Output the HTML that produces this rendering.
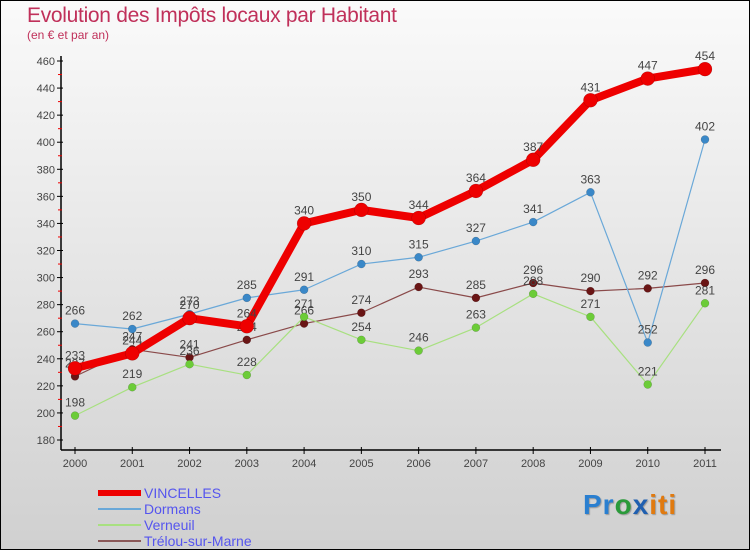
<!DOCTYPE html>
<html><head><meta charset="utf-8"><style>
html,body{margin:0;padding:0}
body{width:750px;height:550px;overflow:hidden;font-family:"Liberation Sans",sans-serif}
#wrap{position:relative;width:748px;height:548px;border:1px solid #000;background:linear-gradient(#fafafa,#d0d0d0)}
.t{position:absolute;color:#c0305a}
</style></head><body>
<div id="wrap">
<div class="t" style="left:26px;top:3px;font-size:21px;letter-spacing:-0.3px">Evolution des Impôts locaux par Habitant</div>
<div class="t" style="left:26px;top:27px;font-size:12px">(en € et par an)</div>
<svg id="chart" width="748" height="548" style="position:absolute;left:0;top:0"></svg>
<div style="position:absolute;left:582px;top:488px;font-size:28px;font-weight:bold;letter-spacing:1px;text-shadow:1px 1px 1px #999"><span style="color:#2a7fd0">Pr</span><span style="color:#2a9a3a">o</span><span style="color:#1f5fb0">x</span><span style="color:#e07a10">iti</span></div>
</div>
<script>
const years=["2000","2001","2002","2003","2004","2005","2006","2007","2008","2009","2010","2011"];
const vincelles=[233,244,270,264,340,350,344,364,387,431,447,454];
const dormans=[266,262,273,285,291,310,315,327,341,363,252,402];
const verneuil=[198,219,236,228,271,254,246,263,288,271,221,281];
const trelou=[227,247,241,254,266,274,293,285,296,290,292,296];
const yTicks=[180,200,220,240,260,280,300,320,340,360,380,400,420,440,460];
const svg=document.getElementById('chart');
const NS='http://www.w3.org/2000/svg';
function X(i){return 74+i*(704-74)/11;}
function Y(v){return 439-(v-180)*(439-60)/280;}
function mk(tag,attrs,parent){const e=document.createElementNS(NS,tag);for(const k in attrs)e.setAttribute(k,attrs[k]);(parent||svg).appendChild(e);return e;}
// axes
const ax=mk('g',{});


mk('line',{x1:60,y1:55,x2:60,y2:449,stroke:'#000','stroke-width':1.5},ax);
mk('line',{x1:60,y1:449,x2:720,y2:449,stroke:'#000','stroke-width':1.5},ax);
yTicks.forEach((v,i)=>{
  mk('line',{x1:56,y1:Y(v),x2:62,y2:Y(v),stroke:'#000'},ax);
  if(i<yTicks.length-1) mk('line',{x1:57,y1:Y(v+10),x2:61,y2:Y(v+10),stroke:'#e00'},ax);
  const t=mk('text',{x:54,y:Y(v)+4,'text-anchor':'end','font-size':11,fill:'#444'},ax);
  
  
  t.textContent=v;
});
years.forEach((y,i)=>{
  mk('line',{x1:X(i),y1:446,x2:X(i),y2:453,stroke:'#000'},ax);
  const t=mk('text',{x:X(i),y:466,'text-anchor':'middle','font-size':11,fill:'#444'},ax);
  
  
  t.textContent=y;
});
function series(name,data,color,dot,w,r){
  const g=mk('g',{});
  
  
  mk('polyline',{points:data.map((v,i)=>X(i)+','+Y(v)).join(' '),fill:'none',stroke:color,'stroke-width':w,'stroke-linejoin':'round'},g);
  data.forEach((v,i)=>{
    const c=mk('circle',{cx:X(i),cy:Y(v),r:r,fill:dot,stroke:'rgba(0,0,0,0.25)','stroke-width':0.5},g);
    
    
    const t=mk('text',{x:X(i),y:Y(v)-9,'text-anchor':'middle','font-size':12,fill:'#444'},g);
    
    
    t.textContent=v;
  });
}
series('trelou',trelou,'#8a4a4a','#6a1515',1.2,4);
series('verneuil',verneuil,'#a8e080','#6ccc38',1.2,4);
series('dormans',dormans,'#6aa8d8','#3a88c8',1.2,4);
series('vincelles',vincelles,'#ee0000','#ee0000',8,7);
// legend
const legend=[["VINCELLES","#ee0000",6],["Dormans","#6aa8d8",2],["Verneuil","#a8e080",2],["Trélou-sur-Marne","#8a5858",2]];
legend.forEach((l,i)=>{
  const g=mk('g',{});
  
  
  const y=492+i*16;
  mk('line',{x1:97,y1:y,x2:140,y2:y,stroke:l[1],'stroke-width':l[2]},g);
  const t=mk('text',{x:143,y:y+5,'font-size':14,fill:'#5555ee'},g);
  t.textContent=l[0];
});
</script>
</body></html>
